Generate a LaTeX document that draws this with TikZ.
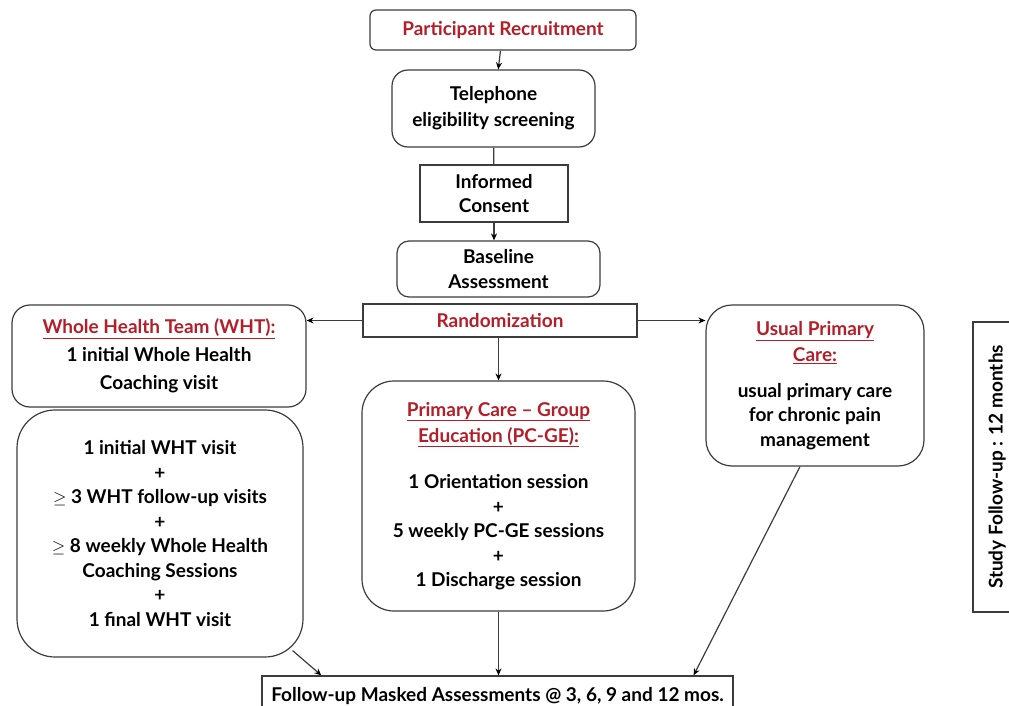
\documentclass[tikz,border=0pt]{standalone}
\usepackage{fontspec}
\setmainfont{Lato}
\usetikzlibrary{arrows.meta}

\definecolor{titlered}{RGB}{180,30,40}
\definecolor{boxline}{RGB}{60,60,60}
\newcommand{\redtitle}[1]{\textcolor{titlered}{\underline{#1}}}

\begin{document}
\begin{tikzpicture}[x=1pt,y=-1pt]
\useasboundingbox (0,0) rectangle (1009,706);

\begin{scope}[every node/.style={draw=boxline,line width=1.2pt,align=center,
              inner sep=0pt,font=\fontsize{19}{24.5}\selectfont\bfseries}]
    \node[rounded corners=6pt,minimum width=266,minimum height=40,text=titlered]
        (recruit) at (503,30) {Participant Recruitment};
    \node[rounded corners=16pt,minimum width=203,minimum height=77]
        (phone) at (493.5,108.5) {Telephone\\[1.5pt]eligibility screening};
    \node[minimum width=148,minimum height=57]
        (consent) at (494,193.5) {Informed\\Consent};
    \node[rounded corners=12pt,minimum width=203,minimum height=56]
        (baseline) at (498.5,269) {Baseline\\Assessment};
    \node[minimum width=274,minimum height=33,text=titlered]
        (random) at (500,320.5) {Randomization};

    \node[rounded corners=18pt,minimum width=294,minimum height=102]
        (wht) at (159,356) {\redtitle{Whole Health Team (WHT):}\\[3.5pt]
        1 initial Whole Health\\[3.5pt]Coaching visit};
    \node[rounded corners=38pt,minimum width=286,minimum height=247]
        (whtplan) at (160,533.5) {1 initial WHT visit\\+\\$\geq$ 3 WHT follow-up visits\\+\\
        $\geq$ 8 weekly Whole Health\\Coaching Sessions\\+\\1 final WHT visit};
    \node[rounded corners=32pt,minimum width=273,minimum height=230]
        (pcge) at (498.5,496) {\redtitle{Primary Care -- Group}\\[1.5pt]\redtitle{Education (PC-GE):}\\[22pt]
        1 Orientation session\\+\\5 weekly PC-GE sessions\\+\\1 Discharge session};
    \node[rounded corners=26pt,minimum width=218,minimum height=161]
        (usual) at (815,385.5) {\redtitle{Usual Primary}\\[2pt]\redtitle{Care:}\\[11pt]
        usual primary care\\for chronic pain\\management};

    \node[minimum width=471,minimum height=44]
        (followup) at (497.5,698) {\raisebox{8pt}{Follow-up Masked Assessments @ 3, 6, 9 and 12 mos.}};
    \node[rotate=90,minimum width=290,minimum height=52]
        (studyfu) at (999,467) {\raisebox{7pt}{Study Follow-up : 12 months}};
\end{scope}

\begin{scope}[>={Stealth[black,length=7pt,width=6pt]},
              every edge/.style={draw=boxline,line width=1.2pt}]
    \path [->] (recruit) edge (phone);
    \path      (phone) edge (consent);
    \path [->] (consent.south) edge (consent.south |- baseline.north);
    \path [->] (random.west) edge (random.west -| wht.east);
    \path [->] (random.east) edge (random.east -| usual.west);
    \path [->] (random.south -| pcge.north) edge (pcge.north);
    \path [->] (pcge.south) edge (pcge.south |- followup.north);
    \path [->] ([shift={(-11,-7)}]whtplan.south east) edge ([xshift=60]followup.north west);
    \path [->] ([xshift=-15]usual.south) edge ([xshift=-40]followup.north east);
\end{scope}
\end{tikzpicture}
\end{document}
